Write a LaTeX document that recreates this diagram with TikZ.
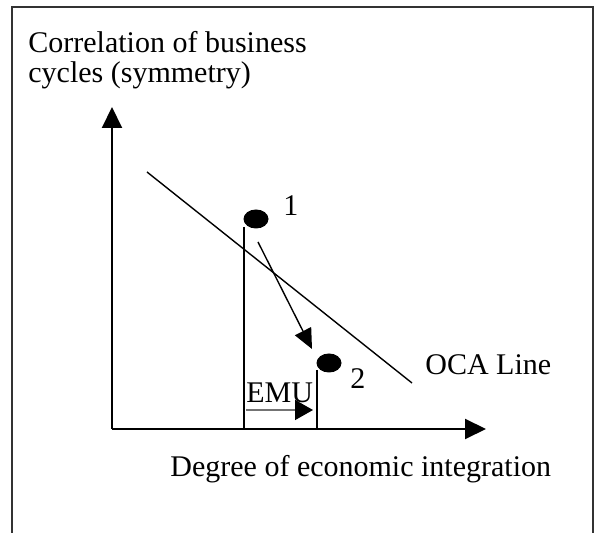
\documentclass[tikz,border=0pt]{standalone}
\usepackage{fontspec}
\setmainfont{Liberation Serif}
\usetikzlibrary{positioning,shapes.geometric,arrows.meta}

\begin{document}
\begin{tikzpicture}[
  x=0.5pt, y=-0.5pt,
  every node/.style={font=\fontsize{15}{15}\selectfont, inner sep=0pt},
  lbl/.style={anchor=base west},
  axis/.style={line width=1pt, -{Triangle[length=10.5pt, width=10pt]}},
  dot/.style={ellipse, fill=black, minimum width=12.5pt, minimum height=9.5pt},
  drop/.style={line width=0.9pt},
  move/.style={line width=0.7pt, -{Triangle[length=10pt, width=9pt]}}
]
  \useasboundingbox (0,0) rectangle (599,533);
  % frame (open at the bottom)
  \draw[line width=0.75pt, black!80] (12,533) -- (12,7) -- (593,7) -- (593,533);

  % axes
  \coordinate (origin) at (112,429);
  \coordinate (ytop) at (112,107);
  \coordinate (xend) at (486,429);
  \draw[axis] (origin) -- (ytop);
  \draw[axis] (origin) -- (xend);

  \node[lbl] (ylab1) at (28,53) {Correlation of business};
  \node[lbl] (ylab2) at (28,83) {cycles (symmetry)};
  \node[lbl] (xlab) at (170,477) {Degree of economic integration};

  % OCA line
  \coordinate (ocaA) at (147,172);
  \coordinate (ocaB) at (412,383);
  \draw[line width=0.7pt] (ocaA) -- (ocaB);
  \node[lbl] (ocalab) at (425,375) {OCA Line};

  % points 1 and 2
  \node[dot] (p1) at (256,219) {};
  \node[dot] (p2) at (329,363) {};
  \node[lbl] (n1) at (283,216) {1};
  \node[lbl] (n2) at (350,389) {2};

  \coordinate (top1) at (244,227);
  \coordinate (foot1) at (244,429);
  \coordinate (top2) at (317,370);
  \coordinate (foot2) at (317,429);
  \draw[drop] (top1) -- (foot1);
  \draw[drop] (top2) -- (foot2);

  % shift from 1 to 2
  \coordinate (mvA) at (258,242);
  \coordinate (mvB) at (312,349);
  \draw[move] (mvA) -- (mvB);

  % EMU
  \node[lbl] (emu) at (246,403) {EMU};
  \coordinate (emuA) at (246,410);
  \coordinate (emuB) at (313,410);
  \draw[move, draw=black!55, -{Triangle[length=9pt, width=10pt, black]}] (emuA) -- (emuB);
\end{tikzpicture}
\end{document}
